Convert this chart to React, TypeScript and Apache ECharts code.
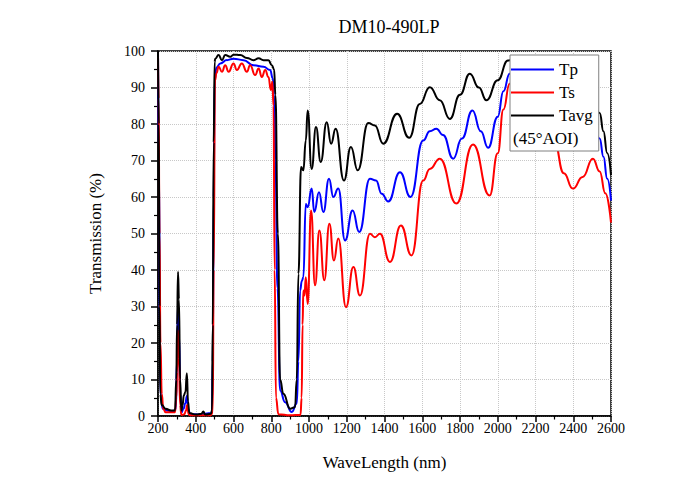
import React, { useEffect, useRef } from "react";
import * as echarts from "echarts";

const FONT = "'Liberation Serif', 'Times New Roman', serif";

const chartTitle = "DM10-490LP";
const xName = "WaveLength (nm)";
const yName = "Transmission (%)";
const noteText = "(45°AOI)";

const tpWl = [200, 205, 210, 215, 225, 250, 280, 295, 300, 306, 312, 318, 325, 335, 345, 353, 360, 370, 420, 485, 490, 495, 500, 510, 530, 565, 600, 653, 706, 759, 794, 808, 815, 822, 833, 847, 873, 909, 935, 944, 953, 962, 970, 983, 993, 1014, 1028, 1053, 1076, 1106, 1129, 1155, 1191, 1231, 1266, 1323, 1355, 1385, 1420, 1482, 1538, 1605, 1640, 1675, 1710, 1764, 1810, 1866, 1910, 1949, 2000, 2030, 2063, 2120, 2200, 2300, 2400, 2500, 2540, 2560, 2580, 2600];
const tpVal = [100, 70, 20, 5, 2, 1.5, 1.2, 2, 15, 31, 22, 6, 1, 2, 3.5, 5.5, 2, 0.5, 0.4, 0.8, 15, 60, 92, 95.5, 96.6, 97.5, 97.9, 97.5, 96.1, 95.7, 94.8, 92.5, 88, 70, 35, 7, 3.8, 1.1, 3.4, 15, 34.4, 37, 38, 58.1, 57.2, 62.3, 55.9, 61.3, 55.9, 65, 60, 62.3, 48.1, 56.3, 50.4, 65, 64.5, 60.9, 58.8, 66.8, 60, 75.5, 78, 78.7, 77, 70.5, 76, 83.7, 78, 73.5, 82, 89, 93.8, 96, 93, 88, 84, 80, 76, 71, 65, 59];

const tsWl = [200, 203, 208, 213, 220, 228, 240, 290, 297, 301, 306, 311, 317, 324, 340, 348, 355, 362, 370, 480, 490, 495, 502, 510, 521, 539, 556, 574, 600, 618, 644, 671, 688, 715, 733, 750, 768, 785, 798, 806, 812, 818, 825, 838, 900, 955, 961, 966, 970, 976, 983, 993, 1011, 1032, 1055, 1081, 1108, 1132, 1155, 1196, 1235, 1270, 1323, 1349, 1376, 1429, 1487, 1543, 1605, 1640, 1693, 1781, 1869, 1957, 2000, 2030, 2063, 2120, 2180, 2240, 2300, 2350, 2398, 2450, 2504, 2540, 2570, 2600];
const tsVal = [100, 87, 50, 20, 6, 2, 1, 1, 5, 12, 23.5, 16, 3, 0.3, 0.5, 1.5, 3, 0.5, 0.2, 0.2, 1, 40, 92, 94, 95.7, 94.3, 96.1, 94.3, 96.6, 94.8, 96.6, 94.3, 96.1, 93.4, 95.2, 92.9, 94.8, 92.9, 89.3, 91.6, 85, 40, 5, 0.5, 0.2, 0.3, 5, 25, 34.4, 33, 38, 30.7, 56.3, 35.8, 50.8, 37.2, 52.7, 42.6, 48.6, 29.8, 40.8, 33, 49.9, 49, 49.9, 42.2, 52.2, 44, 64.5, 67.7, 70.5, 58.2, 74.4, 60.4, 72, 84, 91, 95, 94, 86, 75, 66.5, 62.3, 65.5, 70.5, 67, 61, 53];

const tavgWl = [200, 204, 208, 212, 220, 240, 270, 290, 297, 301, 306, 311, 317, 324, 330, 337, 345, 353, 359, 366, 400, 430, 440, 450, 480, 486, 490, 495, 500, 503, 521, 539, 556, 583, 600, 636, 671, 706, 733, 759, 785, 803, 815, 822, 835, 847, 864, 900, 926, 935, 944, 958, 970, 983, 993, 1014, 1037, 1062, 1094, 1117, 1141, 1185, 1222, 1258, 1314, 1349, 1393, 1467, 1531, 1587, 1640, 1693, 1746, 1800, 1852, 1900, 1940, 2000, 2054, 2100, 2200, 2300, 2400, 2500, 2540, 2560, 2580, 2600];
const tavgVal = [100, 80, 30, 6, 3, 2, 1.5, 1.5, 10, 25, 39.5, 32, 10, 1.5, 3, 5.7, 6.5, 11.7, 4, 0.8, 0.4, 0.6, 1.2, 0.4, 0.6, 1.5, 25, 75, 97, 97.9, 98.9, 97.5, 98.9, 98.4, 99, 98.9, 98.1, 97.5, 98, 97.5, 97.5, 96.1, 95, 88, 50, 10, 6.1, 2, 2.4, 10, 39, 68.2, 67.3, 75.5, 83.7, 67.7, 79.2, 69.6, 80.5, 74.6, 78.7, 64.5, 73.7, 67.3, 80.3, 79.6, 74.6, 82.8, 76.2, 85.5, 90.1, 86.5, 81.4, 88, 93.8, 90, 86.5, 92, 97.4, 98, 97, 94, 91, 87, 83, 78, 72, 66];

const legendNames = ["Tp", "Ts", "Tavg"];

const pairs = (xs: number[], ys: number[]) => xs.map((x, i) => [x, ys[i]]);

export default function App() {
  const ref = useRef<HTMLDivElement>(null);
  useEffect(() => {
    if (!ref.current) return;
    const chart = echarts.init(ref.current, null, { renderer: "svg" });
    const lineSeries = (name: string, color: string, data: number[][]) => ({
      name,
      type: "line",
      data,
      symbol: "none",
      smooth: 0.5,
      smoothMonotone: "x",
      lineStyle: { color, width: 2 },
      itemStyle: { color },
      z: 2,
    });
    chart.setOption({
      animation: false,
      backgroundColor: "#fff",
      title: {
        text: chartTitle,
        left: 384,
        top: 13,
        textAlign: "center",
        textStyle: { fontFamily: FONT, fontSize: 18, fontWeight: "normal", color: "#000" },
      },
      grid: {
        left: 158,
        right: 89,
        top: 51,
        bottom: 82,
        show: true,
        borderColor: "#000",
        borderWidth: 1.5,
        backgroundColor: "transparent",
      },
      legend: {
        orient: "vertical",
        left: 510,
        top: 55,
        data: legendNames.map((n) => ({ name: n, icon: "rect" })),
        itemWidth: 43,
        itemHeight: 2,
        itemGap: 6,
        itemTextGap: 5,
        padding: [6, 6, 27, 1],
        backgroundColor: "#fff",
        borderColor: "#808080",
        borderWidth: 1,
        borderRadius: 0,
        textStyle: { fontFamily: FONT, fontSize: 17, color: "#000", lineHeight: 17 },
      },
      graphic: [
        {
          type: "text",
          left: 513,
          top: 130,
          z: 100,
          style: { text: noteText, fontFamily: FONT, fontSize: 17, fill: "#000" },
        },
      ],
      xAxis: {
        type: "value",
        min: 200,
        max: 2600,
        interval: 200,
        name: xName,
        nameLocation: "middle",
        nameGap: 38,
        nameTextStyle: { fontFamily: FONT, fontSize: 17, color: "#000" },
        axisLine: { show: true, lineStyle: { color: "#000", width: 1.5 } },
        axisTick: { show: true, inside: false, length: 6, lineStyle: { color: "#000", width: 1.5 } },
        minorTick: { show: true, splitNumber: 2, length: 3.5, lineStyle: { color: "#000", width: 1.2 } },
        axisLabel: { fontFamily: FONT, fontSize: 14, color: "#000", margin: 5, formatter: (v: number) => String(v) },
        splitLine: { show: true, lineStyle: { color: "#c8c8c8", type: "dotted", width: 1 } },
      },
      yAxis: {
        type: "value",
        min: 0,
        max: 100,
        interval: 10,
        name: yName,
        nameLocation: "middle",
        nameGap: 54,
        nameTextStyle: { fontFamily: FONT, fontSize: 17, color: "#000" },
        axisLine: { show: true, lineStyle: { color: "#000", width: 1.5 } },
        axisTick: { show: true, inside: false, length: 7, lineStyle: { color: "#000", width: 1.5 } },
        minorTick: { show: true, splitNumber: 2, length: 4, lineStyle: { color: "#000", width: 1.2 } },
        axisLabel: { fontFamily: FONT, fontSize: 14, color: "#000", margin: 13, formatter: (v: number) => String(v) },
        splitLine: { show: true, lineStyle: { color: "#c8c8c8", type: "dotted", width: 1 } },
      },
      series: [
        lineSeries("Tp", "#0000ff", pairs(tpWl, tpVal)),
        lineSeries("Ts", "#ff0000", pairs(tsWl, tsVal)),
        lineSeries("Tavg", "#000000", pairs(tavgWl, tavgVal)),
      ],
    });
    return () => chart.dispose();
  }, []);
  return <div ref={ref} style={{ position: "fixed", left: 0, top: 0, width: 700, height: 498 }} />;
}
